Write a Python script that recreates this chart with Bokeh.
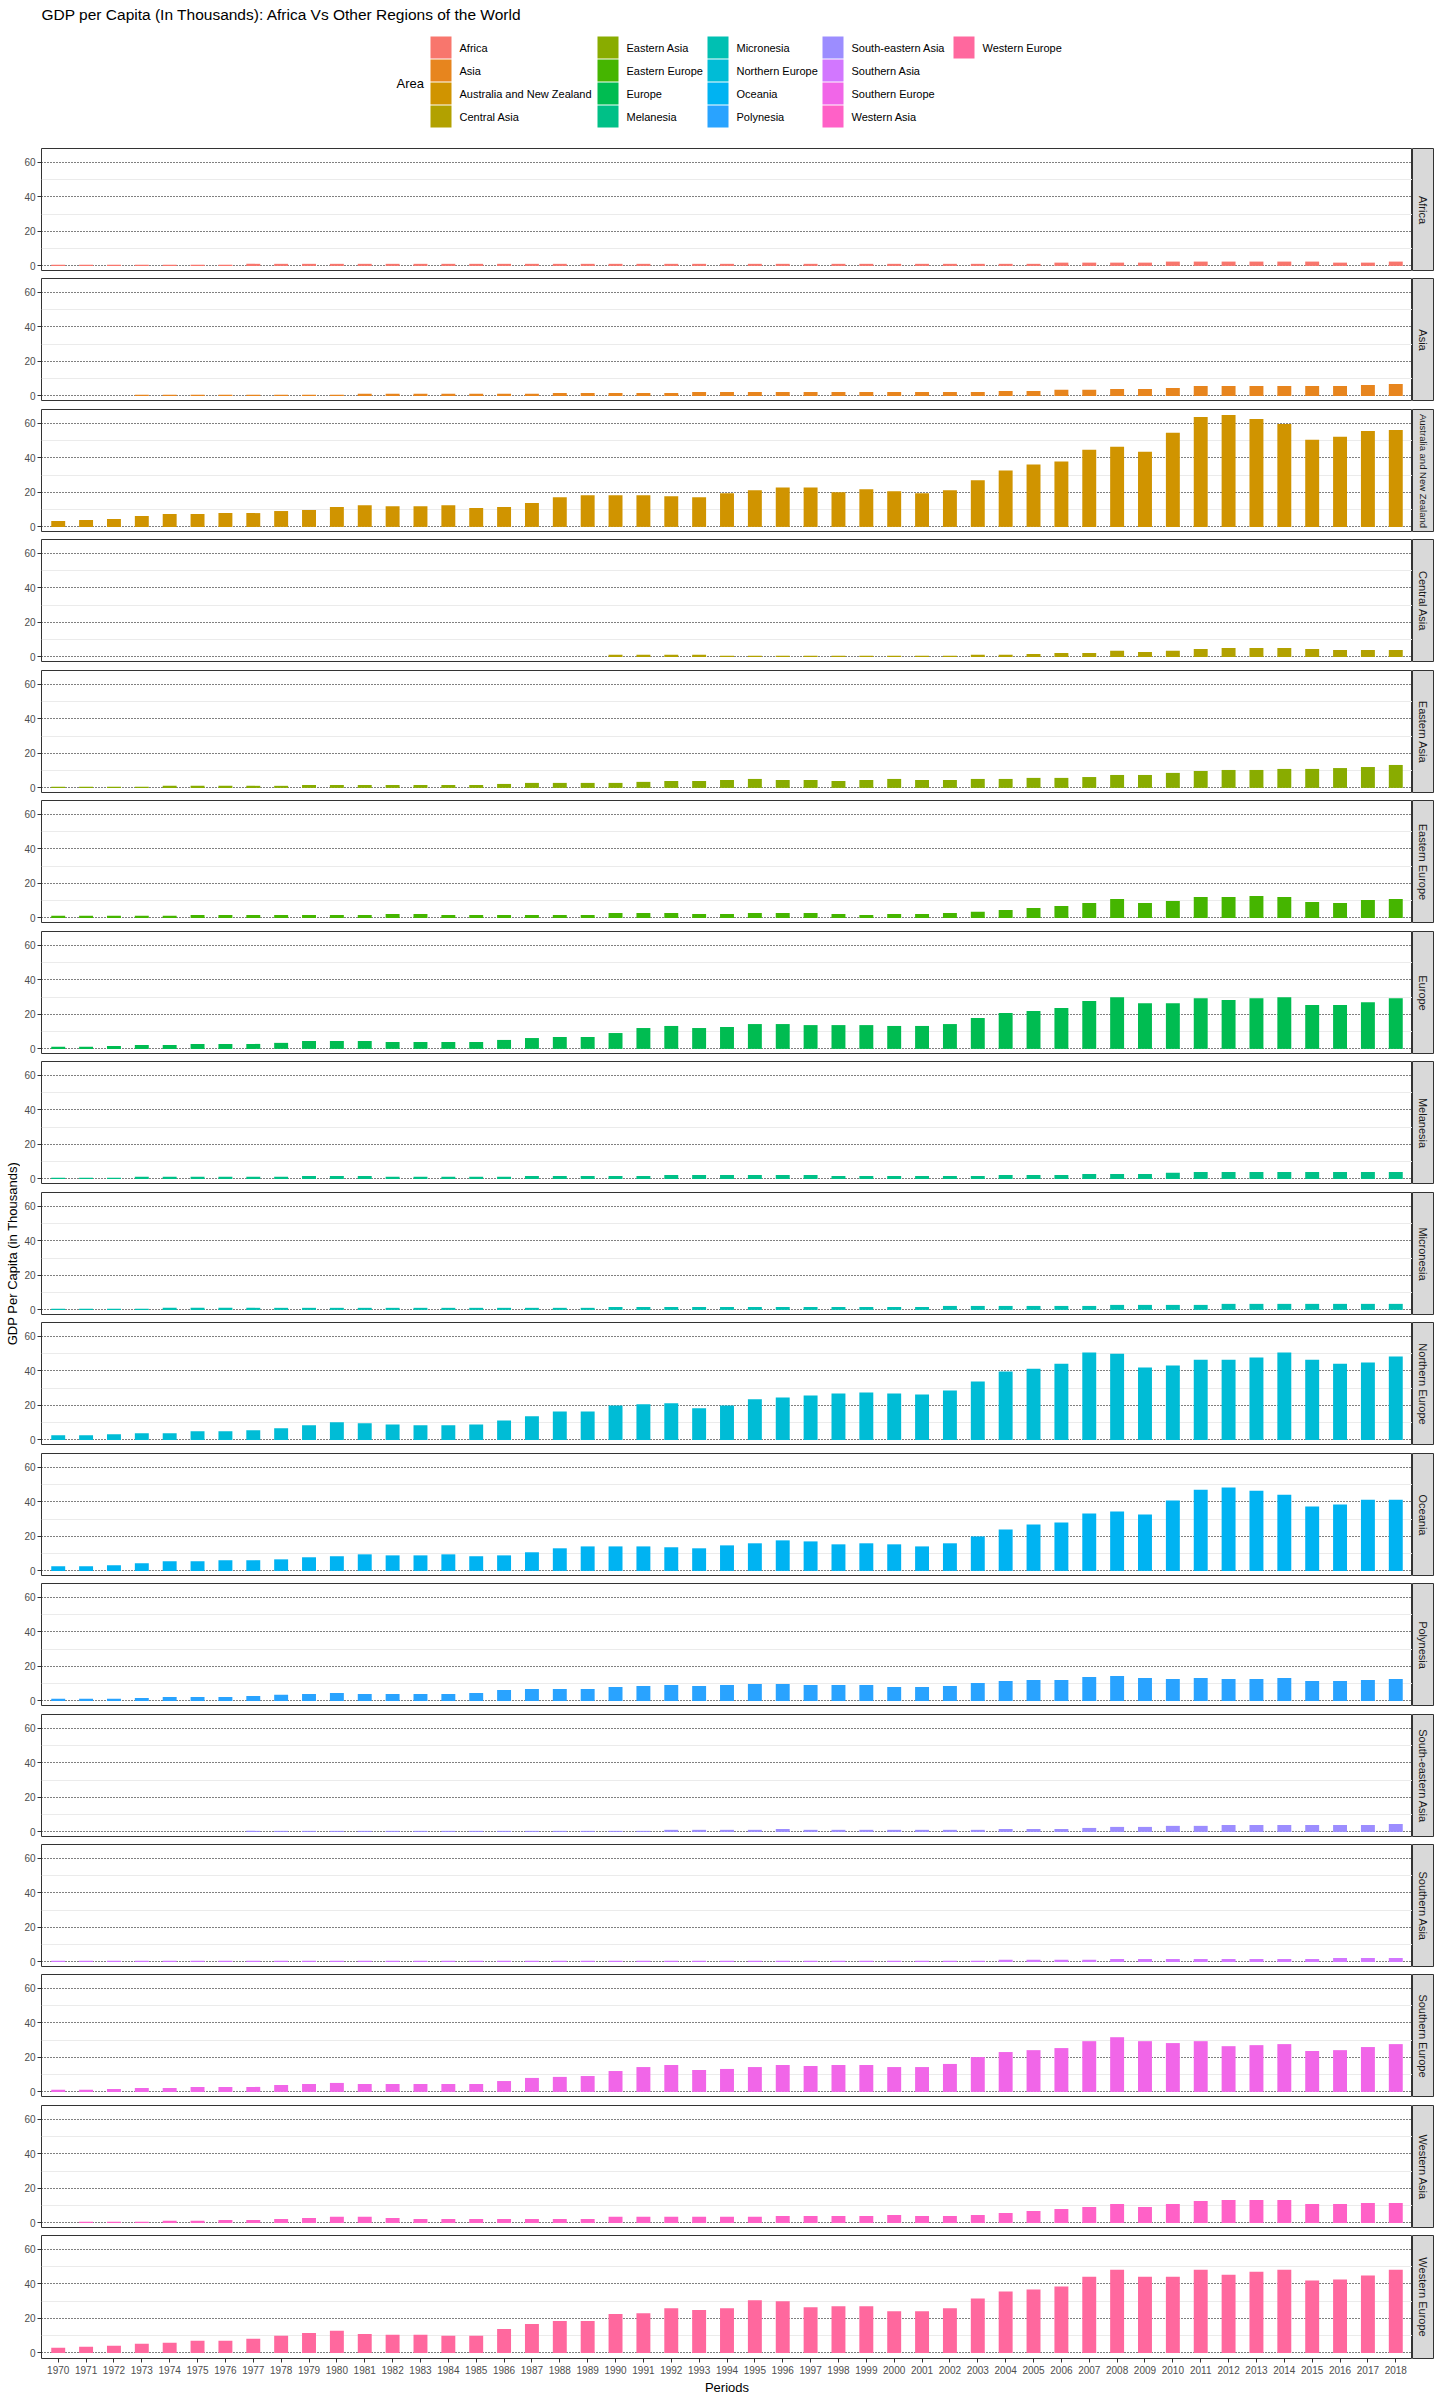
import numpy as np
from math import pi
from bokeh.plotting import figure
from bokeh.models import Range1d, FixedTicker
from bokeh.layouts import column, row
from bokeh.core.properties import value
from bokeh.embed import file_html
from bokeh.resources import INLINE

FONT = "Liberation Sans"

# ---------------- data ----------------
years = list(range(1970, 2019))
y_ticks = [0, 20, 40, 60]
y_minor = [10, 30, 50]

regions = ["Africa", "Asia", "Australia and New Zealand", "Central Asia", "Eastern Asia",
           "Eastern Europe", "Europe", "Melanesia", "Micronesia", "Northern Europe", "Oceania",
           "Polynesia", "South-eastern Asia", "Southern Asia", "Southern Europe", "Western Asia",
           "Western Europe"]
colors = ["#F8766D", "#E7851E", "#D09400", "#B2A100", "#89AC00", "#45B500", "#00BC51",
          "#00C087", "#00C0B2", "#00BCD6", "#00B3F2", "#29A3FF", "#9C8DFF", "#D277FF",
          "#F166E8", "#FF61C7", "#FF689E"]

africa = [0.6]*7 + [1.2]*29 + [1.9]*4 + [2.5]*6 + [1.9, 1.9, 2.5]
asia = [None]*3 + [0.6]*8 + [1.2]*7 + [1.7]*5 + [2.3]*11 + [2.9, 2.9, 3.5, 3.5, 4.0, 4.0, 4.6] + [5.8]*6 + [6.3, 6.9]
australia_nz = [3.4, 4.0, 4.6, 6.3, 7.5, 7.5, 8.0, 8.0, 9.2, 9.8,
                11.5, 12.6, 12.0, 12.0, 12.6, 10.9, 11.5, 13.8, 17.2, 18.4,
                18.4, 18.4, 17.8, 17.2, 19.5, 21.2, 22.9, 22.9, 20.1, 21.8,
                20.6, 19.5, 21.2, 27.0, 32.7, 36.1, 37.9, 44.7, 46.5, 43.6,
                54.5, 63.7, 64.8, 62.5, 59.7, 50.5, 52.2, 55.6, 56.2]
central_asia = [None]*20 + [1.2]*4 + [0.6]*9 + [1.2, 1.2, 1.7, 2.3, 2.3, 3.5, 2.9, 3.5,
                                                 4.6, 5.2, 5.2, 5.2, 4.6, 4.0, 4.0, 4.0]
eastern_asia = [0.6, 0.6, 0.6, 0.6, 1.2, 1.2, 1.2, 1.2, 1.2, 1.7,
                1.7, 1.7, 1.7, 1.7, 1.7, 1.7, 2.3, 2.9, 2.9, 2.9,
                2.9, 3.5, 4.0, 4.0, 4.6, 5.2, 4.6, 4.6, 4.0, 4.6,
                5.2, 4.6, 4.6, 5.2, 5.2, 5.8, 5.8, 6.3, 7.5, 7.5,
                8.7, 9.8, 10.4, 10.4, 11.0, 11.0, 11.5, 12.1, 13.3]
eastern_europe = [1.2, 1.2, 1.2, 1.2, 1.2, 1.7, 1.7, 1.7, 1.7, 1.7,
                  1.7, 1.7, 2.3, 2.3, 1.7, 1.7, 1.7, 1.7, 1.7, 1.7,
                  2.9, 2.9, 2.9, 2.3, 2.3, 2.9, 2.9, 2.9, 2.3, 1.7,
                  2.3, 2.3, 2.9, 3.5, 4.6, 5.8, 6.9, 8.7, 11.0, 8.7,
                  9.8, 12.1, 12.1, 12.7, 12.1, 9.2, 8.7, 10.4, 11.0]
europe = [1.2, 1.2, 1.7, 2.3, 2.3, 2.9, 2.9, 2.9, 3.5, 4.6,
          4.6, 4.6, 4.0, 4.0, 4.0, 4.0, 5.2, 6.3, 6.9, 6.9,
          9.2, 12.1, 13.3, 12.1, 12.7, 14.4, 14.4, 13.8, 13.8, 13.8,
          13.3, 13.3, 14.4, 17.9, 20.8, 21.9, 23.7, 27.7, 30.0, 26.5,
          26.5, 29.4, 28.3, 29.4, 30.0, 25.4, 25.4, 27.1, 29.4]
melanesia = [0.6, 0.6, 0.6, 1.2, 1.2, 1.2, 1.2, 1.2, 1.2, 1.7,
             1.7, 1.7, 1.2, 1.2, 1.2, 1.2, 1.2, 1.7, 1.7, 1.7,
             1.7, 1.7, 2.3, 2.3, 2.3, 2.3, 2.3, 2.3, 1.7, 1.7,
             1.7, 1.7, 1.7, 1.7, 2.3, 2.3, 2.3, 2.9, 2.9, 2.9,
             3.5, 4.0, 4.0, 4.0, 4.0, 4.0, 4.0, 4.0, 4.0]
micronesia = [0.6]*4 + [1.2]*16 + [1.7]*12 + [2.3]*6 + [2.9]*4 + [3.5]*7
northern_europe = [2.7, 2.7, 3.3, 3.8, 3.8, 5.0, 5.0, 5.6, 6.7, 8.5,
                   10.2, 9.6, 9.0, 8.5, 8.5, 9.0, 11.3, 13.7, 16.5, 16.5,
                   20.0, 20.6, 21.2, 18.3, 20.0, 23.5, 24.6, 25.8, 26.9, 27.5,
                   26.9, 26.3, 28.7, 33.8, 39.6, 41.3, 44.2, 50.6, 50.0, 41.9,
                   43.1, 46.5, 46.5, 47.7, 50.6, 46.5, 44.2, 44.8, 48.3]
oceania = [2.7, 2.7, 3.3, 4.4, 5.6, 5.6, 6.2, 6.2, 6.7, 7.9,
           8.5, 9.6, 9.0, 9.0, 9.6, 8.5, 9.0, 10.8, 13.1, 14.2,
           14.2, 14.2, 13.7, 13.1, 14.8, 16.0, 17.7, 17.1, 15.4, 16.0,
           15.4, 14.2, 16.0, 20.0, 24.0, 26.9, 28.1, 33.3, 34.4, 32.7,
           40.8, 47.1, 48.3, 46.5, 44.2, 37.3, 38.5, 41.3, 41.3]
polynesia = [1.2, 1.2, 1.2, 1.7, 2.3, 2.3, 2.3, 2.9, 3.5, 4.0,
             4.6, 4.0, 4.0, 4.0, 4.0, 4.6, 6.3, 6.9, 6.9, 6.9,
             8.1, 8.7, 9.2, 8.7, 9.2, 9.8, 9.8, 9.2, 9.2, 9.2,
             8.1, 8.1, 8.7, 10.4, 11.5, 12.1, 12.1, 13.8, 14.4, 13.3,
             12.7, 13.3, 12.7, 12.7, 13.3, 11.5, 11.5, 12.1, 12.7]
south_eastern_asia = [None]*7 + [0.6]*15 + [1.2]*4 + [1.7] + [1.2]*7 + [1.7, 1.7, 1.7, 2.3, 2.9, 2.9, 3.5, 3.5,
                                                                     4.0, 4.0, 4.0, 4.0, 4.0, 4.0, 4.6]
southern_asia = [0.6]*34 + [1.2]*4 + [1.7]*8 + [2.3]*3
southern_europe = [1.2, 1.2, 1.7, 2.3, 2.3, 2.9, 2.9, 2.9, 4.0, 4.6,
                   5.2, 4.6, 4.6, 4.6, 4.6, 4.6, 6.3, 8.1, 8.7, 9.2,
                   12.1, 14.4, 15.6, 12.7, 13.3, 14.4, 15.6, 15.0, 15.6, 15.6,
                   14.4, 14.4, 16.2, 20.2, 23.1, 24.2, 25.4, 29.4, 31.7, 29.4,
                   28.3, 29.4, 26.5, 27.1, 27.7, 23.7, 24.2, 26.0, 27.7]
western_asia = [None, 0.6, 0.6, 0.6, 1.2, 1.2, 1.7, 1.7, 2.3, 2.9,
                3.5, 3.5, 2.9, 2.3, 2.3, 2.3, 2.3, 2.3, 2.3, 2.3,
                3.5, 3.5, 3.5, 3.5, 3.5, 3.5, 4.0, 4.0, 4.0, 4.0,
                4.6, 4.0, 4.0, 4.6, 5.8, 6.9, 8.1, 9.2, 11.0, 9.2,
                11.0, 12.7, 13.3, 13.3, 13.3, 11.0, 11.0, 11.5, 11.5]
western_europe = [3.0, 3.6, 4.2, 5.3, 5.9, 7.0, 7.0, 8.2, 9.9, 11.6,
                  12.8, 11.0, 10.5, 10.5, 9.9, 9.9, 13.9, 16.8, 18.5, 18.5,
                  22.5, 23.0, 25.9, 24.8, 25.9, 30.5, 29.9, 26.5, 27.0, 27.0,
                  24.2, 24.2, 25.9, 31.6, 35.6, 36.8, 38.5, 44.2, 48.2, 44.2,
                  44.2, 48.2, 45.3, 47.0, 48.2, 41.9, 42.5, 44.8, 48.2]

series = [africa, asia, australia_nz, central_asia, eastern_asia, eastern_europe, europe,
          melanesia, micronesia, northern_europe, oceania, polynesia, south_eastern_asia,
          southern_asia, southern_europe, western_asia, western_europe]

title_text = "GDP per Capita (In Thousands): Africa Vs Other Regions of the World"
x_title = "Periods"
y_title = "GDP Per Capita (in Thousands)"
legend_title = "Area"

# ---------------- layout constants ----------------
PAGE_W = 1440
HEADER_H = 141
YLAB_W = 20
PLOT_LEFT = 41
FRAME_W = 1371
FRAME_H = 123
STRIP_W = 21
RIGHT_PAD = 7
BOTTOM_H = 42
FIRST_TOP = 148
PITCH = 130.46
DARK = "#333333"
TICK_TXT = "#4d4d4d"

arrs = [np.array(s, dtype=float) for s in series]
ymax = float(np.nanmax(np.concatenate(arrs)))
y_lo, y_hi = -0.05 * ymax, 1.05 * ymax

# ---------------- header (title + legend) ----------------
header = figure(width=PAGE_W, height=HEADER_H, x_range=Range1d(0, PAGE_W),
                y_range=Range1d(HEADER_H, 0), toolbar_location=None, output_backend="svg",
                min_border=0, outline_line_color=None, x_axis_location=None,
                y_axis_location=None, title=None)
header.grid.visible = False
header.text(x=[41], y=[14], text=[title_text], text_font=value(FONT),
            text_font_size="15.5px", text_color="black", text_align="left",
            text_baseline="middle")

leg_col_x = [430, 597, 707, 822, 953]
leg_top0 = 36
leg_row_h = 23
key_w = 21
n = len(regions)
kx = [leg_col_x[i // 4] for i in range(n)]
ky = [leg_top0 + (i % 4) * leg_row_h for i in range(n)]
header.quad(left=kx, right=[x + key_w for x in kx], top=ky, bottom=[y + leg_row_h - 1 for y in ky],
            fill_color=colors, line_color=None)
header.text(x=[x + 29 for x in kx], y=[y + (leg_row_h - 1) / 2 for y in ky], text=regions,
            text_font=value(FONT), text_font_size="11px", text_color="black",
            text_align="left", text_baseline="middle")
header.text(x=[396], y=[83], text=[legend_title], text_font=value(FONT),
            text_font_size="13px", text_color="black", text_align="left",
            text_baseline="middle")

# ---------------- panels ----------------
tops = [round(FIRST_TOP + k * PITCH) for k in range(n)]
panel_rows = []
for k, (region, vals, col) in enumerate(zip(regions, arrs, colors)):
    last = (k == n - 1)
    top_border = FIRST_TOP - HEADER_H if k == 0 else tops[k] - (tops[k - 1] + FRAME_H)
    bottom_border = BOTTOM_H if last else 0

    p = figure(frame_width=FRAME_W, frame_height=FRAME_H,
               x_range=Range1d(years[0] - 0.6, years[-1] + 0.6),
               y_range=Range1d(y_lo, y_hi), toolbar_location=None, output_backend="svg",
               min_border_left=PLOT_LEFT - YLAB_W, min_border_right=0,
               min_border_top=top_border, min_border_bottom=bottom_border,
               outline_line_color=DARK, outline_line_width=1, title=None,
               x_axis_location="below" if last else None, y_axis_location="left")
    p.vbar(x=years, top=vals, width=0.5, bottom=0, fill_color=col, line_color=None)

    yt = FixedTicker(ticks=y_ticks, minor_ticks=y_minor)
    p.yaxis.ticker = yt
    p.ygrid.ticker = yt
    p.yaxis.axis_line_color = None
    p.yaxis.major_tick_line_color = DARK
    p.yaxis.major_tick_out = 4
    p.yaxis.major_tick_in = 0
    p.yaxis.minor_tick_line_color = None
    p.yaxis.major_label_text_font = FONT
    p.yaxis.major_label_text_font_size = "10px"
    p.yaxis.major_label_text_color = TICK_TXT
    p.yaxis.major_label_standoff = 2
    p.ygrid.grid_line_color = "black"
    p.ygrid.grid_line_dash = "1 2"
    p.ygrid.grid_line_width = 1
    p.ygrid.minor_grid_line_color = "#ebebeb"
    p.ygrid.minor_grid_line_width = 1
    p.xgrid.visible = False

    if last:
        p.xaxis.ticker = FixedTicker(ticks=years)
        p.xaxis.axis_line_color = None
        p.xaxis.major_tick_line_color = DARK
        p.xaxis.major_tick_out = 4
        p.xaxis.major_tick_in = 0
        p.xaxis.minor_tick_line_color = None
        p.xaxis.major_label_text_font = FONT
        p.xaxis.major_label_text_font_size = "10px"
        p.xaxis.major_label_text_color = TICK_TXT
        p.xaxis.major_label_standoff = 3
        p.xaxis.axis_label = x_title
        p.xaxis.axis_label_text_font = FONT
        p.xaxis.axis_label_text_font_size = "13px"
        p.xaxis.axis_label_text_font_style = "normal"
        p.xaxis.axis_label_text_color = "black"
        p.xaxis.axis_label_standoff = 3

    # strip label size: shrink long names so they fit inside the strip
    strip_size = "11px" if len(region) <= 20 else "9.5px"
    s = figure(frame_width=STRIP_W, frame_height=FRAME_H, x_range=Range1d(0, 1),
               y_range=Range1d(0, 1), toolbar_location=None, output_backend="svg",
               min_border_left=0, min_border_right=RIGHT_PAD, min_border_top=top_border,
               min_border_bottom=bottom_border, background_fill_color="#d9d9d9",
               outline_line_color=DARK, outline_line_width=1, title=None,
               x_axis_location=None, y_axis_location=None)
    s.grid.visible = False
    s.text(x=[0.5], y=[0.5], text=[region], angle=-pi / 2, text_align="center",
           text_baseline="middle", text_font=value(FONT), text_font_size=strip_size,
           text_color="#1a1a1a")
    panel_rows.append(row(p, s, spacing=0))

inner_h = tops[-1] + FRAME_H + BOTTOM_H - HEADER_H
ylab = figure(width=YLAB_W, height=inner_h, x_range=Range1d(0, YLAB_W),
              y_range=Range1d(HEADER_H + inner_h, HEADER_H), toolbar_location=None,
              output_backend="svg", min_border=0, outline_line_color=None,
              x_axis_location=None, y_axis_location=None, title=None)
ylab.grid.visible = False
ylab.text(x=[12], y=[(FIRST_TOP + tops[-1] + FRAME_H) / 2], text=[y_title], angle=pi / 2,
          text_align="center", text_baseline="middle", text_font=value(FONT),
          text_font_size="13px", text_color="black")

layout = column(header, row(ylab, column(*panel_rows, spacing=0), spacing=0), spacing=0)

open("out.html", "w").write(file_html(layout, INLINE))
